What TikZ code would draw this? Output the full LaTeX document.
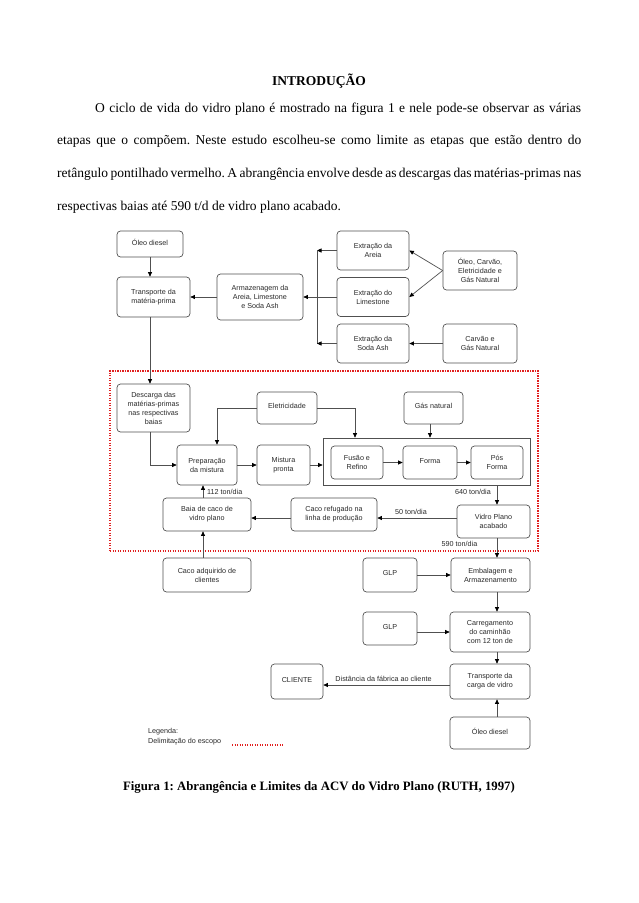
\documentclass[tikz,border=0pt]{standalone}
\usepackage{fontspec}
\setmainfont{Liberation Serif}
\newfontfamily\arialf{Liberation Sans}
\usetikzlibrary{arrows.meta}
\definecolor{linec}{HTML}{505050}
\definecolor{txtc}{HTML}{2A2A2A}
\definecolor{dotred}{HTML}{E02020}
\frenchspacing
\begin{document}
\begin{tikzpicture}[x=1pt,y=-1pt,
  box/.style={draw=linec, line width=0.7pt, rounded corners=3.5pt, align=center,
    font=\arialf\fontsize{7.2}{9}\selectfont, text=txtc, inner sep=1pt},
  one/.style={text depth=3.5pt},
  arr/.style={draw=linec, line width=0.7pt, -{Triangle[length=4.5pt,width=4pt,color=black]}},
  plain/.style={draw=linec, line width=0.7pt},
  lab/.style={font=\arialf\fontsize{7.2}{9}\selectfont, text=txtc, inner sep=0pt},
  reddot/.style={draw=dotred, line width=1.3pt, dash pattern=on 1.2pt off 1.3pt}
]
\path[use as bounding box] (0,0) rectangle (638,903);
\fill[white] (0,0) rectangle (638,903);

% ---- text ----
\node[font=\bfseries\fontsize{13.5}{16}\selectfont, anchor=base, inner sep=0] (title) at (319,85) {INTRODUÇÃO};
\node[anchor=base west, text width=524pt, align=justify, inner sep=0,
  font=\fontsize{13.5}{32.7}\selectfont] (para) at (57,112)
  {\hyphenpenalty=10000\exhyphenpenalty=10000\spaceskip=0.25em plus 1.5em minus 0.12em\hspace*{38pt}O ciclo de vida do vidro plano é mostrado na figura 1 e nele pode-se observar as várias\linebreak etapas que o compõem. Neste estudo escolheu-se como limite as etapas que estão dentro do\linebreak retângulo pontilhado vermelho. A abrangência envolve desde as descargas das matérias-primas nas\linebreak respectivas baias até 590 t/d de vidro plano acabado.};
\node[font=\bfseries\fontsize{12.8}{15}\selectfont, anchor=base, inner sep=0] (caption) at (319,790) {Figura 1: Abrangência e Limites da ACV do Vidro Plano (RUTH, 1997)};

% ---- scope rectangle ----
\node[reddot, minimum width=428pt, minimum height=180pt, inner sep=0] (escopo) at (324,461) {};

% ---- boxes ----
\node[box, one, minimum width=66pt, minimum height=26pt] (oleo1) at (150,244) {Óleo diesel};
\node[box, minimum width=73pt, minimum height=40pt] (transp1) at (153.5,297) {Transporte da\\matéria-prima};
\node[box, minimum width=86pt, minimum height=46pt] (armaz) at (260,297) {Armazenagem da\\Areia, Limestone\\e Soda Ash};
\node[box, minimum width=72pt, minimum height=39pt] (extA) at (373,250.5) {Extração da\\Areia};
\node[box, minimum width=72pt, minimum height=39pt] (extL) at (373,297) {Extração do\\Limestone};
\node[box, minimum width=72pt, minimum height=39pt] (extS) at (373,343.5) {Extração da\\Soda Ash};
\node[box, minimum width=74pt, minimum height=39pt] (oleoCarv) at (480,270.5) {Óleo, Carvão,\\Eletricidade e\\Gás Natural};
\node[box, minimum width=74pt, minimum height=39pt] (carvGas) at (480,343.5) {Carvão e\\Gás Natural};

\node[box, minimum width=73pt, minimum height=48pt] (desc) at (153.5,408) {Descarga das\\matérias-primas\\nas respectivas\\baias};
\node[box, one, minimum width=60pt, minimum height=32pt] (elet) at (287,408) {Eletricidade};
\node[box, one, minimum width=59pt, minimum height=32pt] (gas) at (433.5,408) {Gás natural};
\node[draw=linec, line width=0.7pt, minimum width=207pt, minimum height=47pt, inner sep=0] (big) at (426.5,461.5) {};
\node[box, minimum width=60pt, minimum height=40pt] (prep) at (207,465) {Preparação\\da mistura};
\node[box, minimum width=53pt, minimum height=40pt] (mist) at (283.5,465) {Mistura\\pronta};
\node[box, minimum width=52pt, minimum height=33pt] (fusao) at (357,462.5) {Fusão e\\Refino};
\node[box, one, minimum width=54pt, minimum height=33pt] (forma) at (430,462.5) {Forma};
\node[box, minimum width=52pt, minimum height=33pt] (pos) at (497,462.5) {Pós\\Forma};
\node[box, minimum width=73pt, minimum height=33pt] (vidro) at (493.5,521.5) {Vidro Plano\\acabado};
\node[box, minimum width=86pt, minimum height=33pt] (cacoRef) at (334,514.5) {Caco refugado na\\linha de produção};
\node[box, minimum width=88pt, minimum height=33pt] (baia) at (207,514.5) {Baia de caco de\\vidro plano};
\node[box, minimum width=88pt, minimum height=34pt] (cacoAdq) at (207,575) {Caco adquirido de\\clientes};
\node[box, minimum width=79pt, minimum height=34pt] (emb) at (490.5,575) {Embalagem e\\Armazenamento};
\node[box, one, minimum width=54pt, minimum height=34pt] (glp1) at (390,575) {GLP};
\node[box, minimum width=80pt, minimum height=40pt] (carr) at (490,632) {Carregamento\\do caminhão\\com 12 ton de};
\node[box, one, minimum width=54pt, minimum height=33pt] (glp2) at (390,628.5) {GLP};
\node[box, minimum width=80pt, minimum height=35pt] (transp2) at (490,681.5) {Transporte da\\carga de vidro};
\node[box, one, minimum width=52pt, minimum height=35pt] (cliente) at (297,681.5) {CLIENTE};
\node[box, one, minimum width=80pt, minimum height=32pt] (oleo2) at (490,733) {Óleo diesel};

% ---- helper coordinates ----
\coordinate (vx) at (317,297);
\coordinate (pin) at (217,0);
\coordinate (ein) at (355,0);
\coordinate (gx) at (430,0);
\coordinate (vx2) at (497,0);
\coordinate (bx) at (203,0);
\coordinate (ry) at (0,518);
\coordinate (cy) at (0,685);

% ---- connectors ----
\draw[arr] (oleo1.south) -- (oleo1.south |- transp1.north);
\draw[arr] (armaz) -- (transp1);
\draw[arr] (transp1.south -| oleo1.south) -- (oleo1.south |- desc.north);
\draw[plain] (extA.west -| vx) -- (extS.west -| vx);
\draw[arr] (extA.west) -- (extA.west -| vx);
\draw[arr] (extS.west) -- (extS.west -| vx);
\draw[arr] (extL) -- (armaz);
\draw[arr] (oleoCarv.west) -- (extA.east);
\draw[arr] (oleoCarv.west) -- (extL.east);
\draw[arr] (carvGas) -- (extS);

\draw[arr] (oleo1.south |- desc.south) -- (oleo1.south |- prep.west) -- (prep.west);
\draw[arr] (elet.west) -- (elet.west -| pin) -- (pin |- prep.north);
\draw[arr] (elet.east) -- (elet.east -| ein) -- (ein |- big.north);
\draw[arr] (gx |- gas.south) -- (gx |- big.north);
\draw[arr] (prep) -- (mist);
\draw[arr] (mist.east) -- (mist.east -| big.west);
\draw[arr] (fusao) -- (forma);
\draw[arr] (forma) -- (pos);
\draw[arr] (vx2 |- big.south) -- (vx2 |- vidro.north);
\node[lab, anchor=east] (l640) at (491,492) {640 ton/dia};
\draw[arr] (vidro.west |- ry) -- (cacoRef.east |- ry);
\node[lab] (l50) at (411,512) {50 ton/dia};
\draw[arr] (cacoRef.west |- ry) -- (baia.east |- ry);
\draw[arr] (bx |- baia.north) -- (bx |- prep.south);
\node[lab, anchor=west] (l112) at (207,492) {112 ton/dia};
\draw[arr] (bx |- cacoAdq.north) -- (bx |- baia.south);
\draw[arr] (vx2 |- vidro.south) -- (vx2 |- emb.north);
\node[lab] (l590) at (459.5,544) {590 ton/dia};
\draw[arr] (glp1) -- (emb);
\draw[arr] (vx2 |- emb.south) -- (vx2 |- carr.north);
\draw[arr] (glp2.east |- carr.west) -- (carr.west);
\draw[arr] (vx2 |- carr.south) -- (vx2 |- transp2.north);
\draw[arr] (transp2.west |- cy) -- (cliente.east |- cy);
\node[lab] (ldist) at (383.5,679) {Distância da fábrica ao cliente};
\draw[arr] (vx2 |- oleo2.north) -- (vx2 |- transp2.south);

% ---- legend ----
\node[lab, anchor=west] (leg1) at (148,732) {Legenda:};
\node[lab, anchor=west] (leg2) at (148,741.5) {Delimitação do escopo};
\coordinate (legA) at (232,745);
\coordinate (legB) at (284,745);
\draw[reddot] (legA) -- (legB);
\end{tikzpicture}
\end{document}
